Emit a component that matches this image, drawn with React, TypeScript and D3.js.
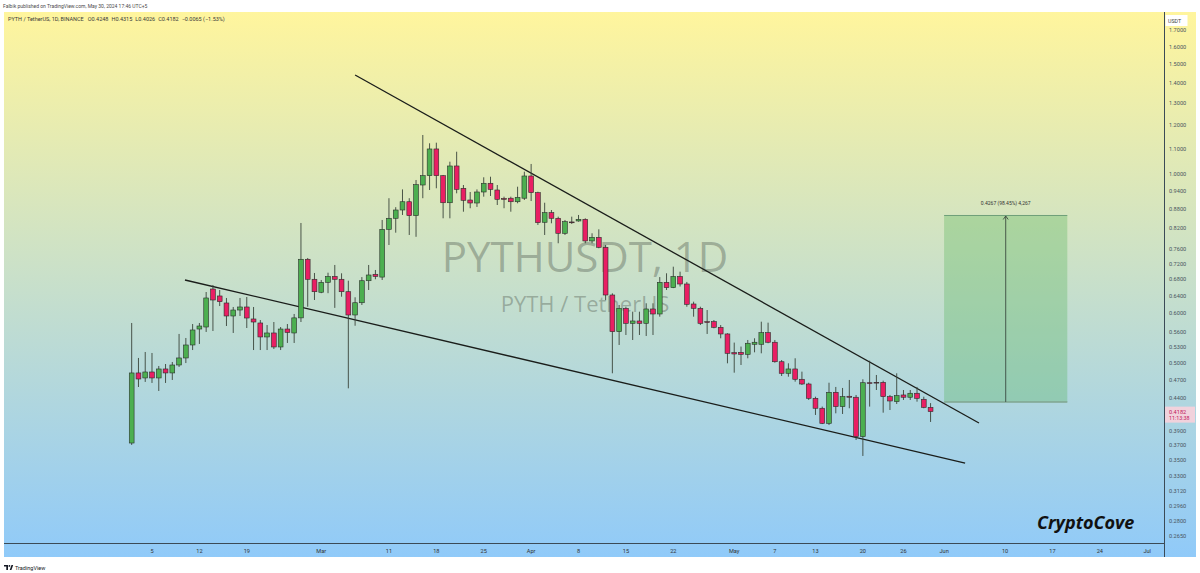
import React from 'react';
import * as d3 from 'd3';

const START = Date.UTC(2024, 1, 2);
const DAY = 86400000;

const opens = [
  0.3726, 0.4821, 0.4733, 0.4838, 0.4733, 0.4892, 0.4821, 0.4964, 0.5094, 0.5343,
  0.5666, 0.5708, 0.6564, 0.6398, 0.6235, 0.5944, 0.6076, 0.6144, 0.5879, 0.5793,
  0.5503, 0.5584, 0.5304, 0.5666, 0.5584, 0.5903, 0.7322, 0.6803, 0.6486, 0.6727,
  0.6874, 0.6803, 0.6499, 0.5966, 0.6241, 0.6767, 0.6929, 0.6858, 0.8175, 0.8513,
  0.8776, 0.9047, 0.8595, 0.9621, 0.9956, 1.0984, 0.9956, 0.9014, 1.0318, 0.9505,
  0.9105, 0.9005, 0.9377, 0.9682, 0.9446, 0.9157, 0.9165, 0.9047, 0.9165, 0.9945,
  0.9354, 0.8389, 0.8690, 0.8513, 0.8056, 0.8399, 0.8429, 0.8481, 0.7832, 0.7938,
  0.7652, 0.6421, 0.5611, 0.6114, 0.5786, 0.5836, 0.5786, 0.6099, 0.5988, 0.6727,
  0.6596, 0.6874, 0.6686, 0.6212, 0.6114, 0.5821, 0.5821, 0.5702, 0.5564, 0.5194,
  0.5201, 0.5163, 0.5357, 0.5357, 0.5590, 0.5397, 0.5024, 0.4815, 0.4892, 0.4710,
  0.4629, 0.4392, 0.4234, 0.4006, 0.4490, 0.4260, 0.4425, 0.4409, 0.3815, 0.4651,
  0.4658, 0.4658, 0.4418, 0.4338, 0.4446, 0.4409, 0.4474, 0.4376, 0.4248,
];
const highs = [
  0.5793, 0.5094, 0.5207, 0.5188, 0.4946, 0.4982, 0.5019, 0.5564, 0.5482, 0.5771,
  0.5793, 0.6492, 0.6661, 0.6540, 0.6351, 0.6144, 0.6351, 0.6374, 0.6144, 0.5857,
  0.5750, 0.5814, 0.5708, 0.5771, 0.5988, 0.8367, 0.7357, 0.6962, 0.6785, 0.6969,
  0.7170, 0.6954, 0.6767, 0.6367, 0.6858, 0.7170, 0.7039, 0.8460, 0.9165, 0.8868,
  0.9467, 0.9165, 0.9800, 1.1563, 1.1215, 1.1240, 0.9982, 1.0482, 1.0874, 0.9621,
  0.9377, 0.9467, 0.9898, 0.9919, 0.9621, 0.9217, 0.9217, 0.9561, 1.0104, 1.0394,
  0.9387, 0.9014, 0.8776, 0.8564, 0.8460, 0.8564, 0.8617, 0.8513, 0.8056, 0.8175,
  0.7717, 0.6461, 0.6189, 0.6150, 0.6039, 0.6039, 0.6228, 0.6228, 0.6858, 0.6954,
  0.7125, 0.6996, 0.6736, 0.6265, 0.6150, 0.6076, 0.5857, 0.5750, 0.5578, 0.5390,
  0.5312, 0.5442, 0.5476, 0.5821, 0.5800, 0.5442, 0.5056, 0.4995, 0.5088, 0.4844,
  0.4651, 0.4418, 0.4260, 0.4651, 0.4579, 0.4562, 0.4698, 0.4446, 0.4710, 0.5043,
  0.4785, 0.4686, 0.4446, 0.4815, 0.4528, 0.4528, 0.4579, 0.4418, 0.4315,
];
const lows = [
  0.3700, 0.4578, 0.4664, 0.4647, 0.4512, 0.4647, 0.4698, 0.4928, 0.5000, 0.5245,
  0.5363, 0.5605, 0.5625, 0.6166, 0.5729, 0.5584, 0.5944, 0.5687, 0.5245, 0.5245,
  0.5245, 0.5265, 0.5245, 0.5383, 0.5383, 0.5814, 0.6150, 0.6304, 0.6464, 0.6464,
  0.6124, 0.6381, 0.4556, 0.5735, 0.6189, 0.6540, 0.6803, 0.6785, 0.7717, 0.8074,
  0.8617, 0.8006, 0.7952, 0.9165, 0.9446, 0.9506, 0.8513, 0.8513, 0.9332, 0.8721,
  0.8833, 0.8876, 0.9217, 0.9240, 0.8939, 0.8833, 0.8721, 0.8995, 0.9105, 0.9071,
  0.8306, 0.8006, 0.8358, 0.7766, 0.8006, 0.8337, 0.8408, 0.7766, 0.7766, 0.7624,
  0.6300, 0.4815, 0.5343, 0.5543, 0.5442, 0.5543, 0.5523, 0.5543, 0.5929, 0.6540,
  0.6585, 0.6624, 0.6150, 0.5929, 0.5750, 0.5564, 0.5681, 0.5476, 0.4995, 0.4826,
  0.4964, 0.5088, 0.5201, 0.5182, 0.5377, 0.5006, 0.4767, 0.4755, 0.4669, 0.4612,
  0.4365, 0.4131, 0.3995, 0.3981, 0.4156, 0.4146, 0.4234, 0.3768, 0.3553, 0.4260,
  0.4528, 0.4166, 0.4207, 0.4301, 0.4365, 0.4365, 0.4338, 0.4234, 0.4026,
];
const closes = [
  0.4821, 0.4715, 0.4838, 0.4733, 0.4892, 0.4821, 0.4964, 0.5094, 0.5343, 0.5646,
  0.5729, 0.6351, 0.6304, 0.6265, 0.5944, 0.6076, 0.6144, 0.5900, 0.5814, 0.5503,
  0.5584, 0.5304, 0.5666, 0.5595, 0.5903, 0.7322, 0.6803, 0.6499, 0.6727, 0.6874,
  0.6803, 0.6499, 0.5966, 0.6241, 0.6767, 0.6911, 0.6874, 0.8175, 0.8513, 0.8776,
  0.9047, 0.8595, 0.9632, 0.9956, 1.0984, 0.9956, 0.9014, 1.0318, 0.9470, 0.9095,
  0.9005, 0.9377, 0.9682, 0.9467, 0.9128, 0.9128, 0.9047, 0.9196, 0.9945, 0.9354,
  0.8377, 0.8690, 0.8513, 0.8056, 0.8408, 0.8383, 0.8481, 0.7832, 0.7938, 0.7652,
  0.6421, 0.5611, 0.6114, 0.5786, 0.5836, 0.5786, 0.6099, 0.5988, 0.6727, 0.6596,
  0.6874, 0.6686, 0.6205, 0.6114, 0.5786, 0.5803, 0.5702, 0.5564, 0.5182, 0.5169,
  0.5163, 0.5377, 0.5397, 0.5590, 0.5397, 0.5024, 0.4815, 0.4892, 0.4710, 0.4629,
  0.4392, 0.4234, 0.4006, 0.4490, 0.4260, 0.4418, 0.4409, 0.3815, 0.4651, 0.4646,
  0.4649, 0.4418, 0.4349, 0.4435, 0.4409, 0.4474, 0.4392, 0.4247, 0.4182,
];

const priceTicks = [1.7, 1.6, 1.5, 1.4, 1.3, 1.2, 1.1, 1.0, 0.94, 0.88, 0.82, 0.76, 0.72, 0.68, 0.64, 0.6, 0.56, 0.53, 0.5, 0.47, 0.44, 0.39, 0.37, 0.35, 0.33, 0.312, 0.296, 0.28, 0.265];

const timeTickDates = ['2024-02-05', '2024-02-12', '2024-02-19', '2024-03-01', '2024-03-11', '2024-03-18', '2024-03-25', '2024-04-01', '2024-04-08', '2024-04-15', '2024-04-22', '2024-05-01', '2024-05-07', '2024-05-13', '2024-05-20', '2024-05-26', '2024-06-01', '2024-06-10', '2024-06-17', '2024-06-24', '2024-07-01'];
const timeTickLabels = ['5', '12', '19', 'Mar', '11', '18', '25', 'Apr', '8', '15', '22', 'May', '7', '13', '20', '26', 'Jun', '10', '17', '24', 'Jul'];

// trend lines: day offsets from first bar, price
const upperLineDays = [33.0, 125.15];
const upperLinePrices = [1.4417, 0.4011];
const lowerLineDays = [7.87, 123.1];
const lowerLinePrices = [0.6785, 0.3462];

// price range (measure) tool
const rangeDays = [120.0, 138.2];
const rangePrices = [0.4334, 0.8601];
const rangeLabel = '0.4267 (98.45%) 4,267';

const headerTop = 'Falbik published on TradingView.com, May 30, 2024 17:46 UTC+5';
const symbolLine = 'PYTH / TetherUS, 1D, BINANCE';
const ohlcLabels = ['O', 'H', 'L', 'C'];
const ohlcValues = ['0.4248', '0.4315', '0.4026', '0.4182'];
const changeText = '\u22120.0065 (\u22121.53%)';
const lastPriceText = '0.4182';
const countdownText = '11:13:38';

const FONT = 'Roboto, "Liberation Sans", Arial, sans-serif';

export default function App() {
  const W = 1200, H = 573;
  const paneL = 4, paneR = 1164, paneT = 12, paneB = 543, frameB = 557, frameR = 1196;

  const dayDate = (d: number) => new Date(START + d * DAY);
  const x = d3.scaleUtc().domain([dayDate(-18.86), dayDate(152.48)]).range([paneL, paneR]);
  const y = d3.scaleLog().domain([0.258, 1.8174]).range([paneB, paneT]);

  const bodyW = 4.8;
  const candles = opens.map((o, i) => ({
    x: x(dayDate(i)),
    o, h: highs[i], l: lows[i], c: closes[i],
  }));

  const upper = upperLineDays.map((d, i) => [x(dayDate(d)), y(upperLinePrices[i])]);
  const lower = lowerLineDays.map((d, i) => [x(dayDate(d)), y(lowerLinePrices[i])]);
  const line = d3.line();

  const rx0 = x(dayDate(rangeDays[0]));
  const rx1 = x(dayDate(rangeDays[1]));
  const ry0 = y(rangePrices[1]);
  const ry1 = y(rangePrices[0]);
  const rmx = (rx0 + rx1) / 2;

  const lastY = y(closes[closes.length - 1]);

  return (
    <svg width={W} height={H} style={{ position: 'absolute', left: 0, top: 0, display: 'block' }} fontFamily={FONT}>
      <defs>
        <linearGradient id="bg" x1="0" y1="0" x2="0" y2="1">
          <stop offset="0" stopColor="#fff59d" />
          <stop offset="1" stopColor="#90caf9" />
        </linearGradient>
        <clipPath id="pane">
          <rect x={paneL} y={paneT} width={paneR - paneL} height={paneB - paneT} />
        </clipPath>
      </defs>
      <rect x={0} y={0} width={W} height={H} fill="#ffffff" />
      <rect x={paneL} y={paneT} width={frameR - paneL} height={frameB - paneT} fill="url(#bg)" />

      <text x={3} y={8} fontSize={5} fill="#4a4a4a">{headerTop}</text>

      {/* watermark */}
      <text x={585} y={272} fontSize={42} textAnchor="middle" fill="#5f6b5f" fillOpacity={0.45} fontFamily='"Open Sans", "Noto Sans", sans-serif'>PYTHUSDT, 1D</text>
      <text x={585} y={312} fontSize={22} textAnchor="middle" fill="#5f6b5f" fillOpacity={0.45} fontFamily='"Open Sans", "Noto Sans", sans-serif'>PYTH / TetherUS</text>

      {/* symbol line */}
      <text x={8} y={21} fontSize={5.5} fill="#3a3a3a">
        <tspan>{symbolLine}</tspan>
        {ohlcLabels.map((lab, i) => (
          <React.Fragment key={lab}>
            <tspan dx={i === 0 ? 4 : 3}>{lab}</tspan>
            <tspan>{ohlcValues[i]}</tspan>
          </React.Fragment>
        ))}
        <tspan dx={3}>{changeText}</tspan>
      </text>

      <g clipPath="url(#pane)">
        {/* range box */}
        <rect x={rx0} y={ry0} width={rx1 - rx0} height={ry1 - ry0} fill="#4caf50" fillOpacity={0.3} />
        <line x1={rx0} x2={rx1} y1={ry0} y2={ry0} stroke="#6f9f7a" strokeWidth={1} />
        <line x1={rx0} x2={rx1} y1={ry1} y2={ry1} stroke="#7fa58f" strokeWidth={1.5} />
        <line x1={rmx} x2={rmx} y1={ry1} y2={ry0 + 1} stroke="#2f3a33" strokeWidth={0.8} />
        <path d={`M${rmx - 2.5},${ry0 + 4} L${rmx},${ry0 + 0.5} L${rmx + 2.5},${ry0 + 4}`} fill="none" stroke="#2f3a33" strokeWidth={0.8} />
        <text x={rmx} y={ry0 - 10} fontSize={5} textAnchor="middle" fill="#333">{rangeLabel}</text>

        {/* trend lines */}
        <path d={line(upper as [number, number][]) || ''} stroke="#1a1d1a" strokeWidth={1.3} fill="none" />
        <path d={line(lower as [number, number][]) || ''} stroke="#1a1d1a" strokeWidth={1.3} fill="none" />

        {/* candles */}
        {candles.map((k, i) => {
          const up = k.c >= k.o;
          const top = y(Math.max(k.o, k.c));
          const bot = y(Math.min(k.o, k.c));
          return (
            <g key={i}>
              <line x1={k.x} x2={k.x} y1={y(k.h)} y2={y(k.l)} stroke="#3a443a" strokeWidth={0.9} />
              <rect x={k.x - bodyW / 2} y={top} width={bodyW} height={Math.max(0.8, bot - top)}
                fill={up ? '#4caf50' : '#e91e63'} stroke="#2b2f2b" strokeWidth={0.6} />
            </g>
          );
        })}
      </g>

      {/* axes borders */}
      <line x1={paneR + 0.5} x2={paneR + 0.5} y1={paneT} y2={frameB} stroke="#3b4a56" strokeWidth={1} />
      <line x1={paneL} x2={paneR} y1={paneB + 0.5} y2={paneB + 0.5} stroke="#3b4a56" strokeWidth={1} />

      {/* price axis */}
      {priceTicks.map((p) => (
        <text key={p} x={1169} y={y(p) + 2} fontSize={5.6} fill="#4a5560">{p.toFixed(4)}</text>
      ))}
      <rect x={1165.5} y={15} width={22} height={11} fill="#ffffff" />
      <text x={1168} y={22.5} fontSize={5.3} fill="#444">USDT</text>

      <rect x={1165} y={lastY - 5} width={30} height={16} fill="#f1d2dc" />
      <text x={1169} y={lastY + 2} fontSize={5.6} fill="#c2185b">{lastPriceText}</text>
      <text x={1169} y={lastY + 8.5} fontSize={5.3} fill="#c2185b">{countdownText}</text>

      {/* time axis */}
      {timeTickDates.map((d, i) => (
        <text key={d} x={x(new Date(d + 'T00:00:00Z'))} y={552.5} fontSize={5.6} textAnchor="middle" fill="#333">{timeTickLabels[i]}</text>
      ))}

      {/* signature */}
      <text x={1037} y={529} fontSize={18} fontWeight="bold" fontStyle="italic" fill="#111" fontFamily='"Open Sans", "Noto Sans", sans-serif'>CryptoCove</text>

      {/* TradingView logo */}
      <g transform="translate(4,565)">
        <path d="M0,0 H4 V5 H2.3 V1.6 H0 Z" fill="#131722" />
        <circle cx={5.4} cy={0.9} r={0.9} fill="#131722" />
        <path d="M7.5,0 H9.2 L7.4,5 H5.7 Z" fill="#131722" />
        <text x={11} y={4.6} fontSize={5.5} fill="#131722">TradingView</text>
      </g>
    </svg>
  );
}
